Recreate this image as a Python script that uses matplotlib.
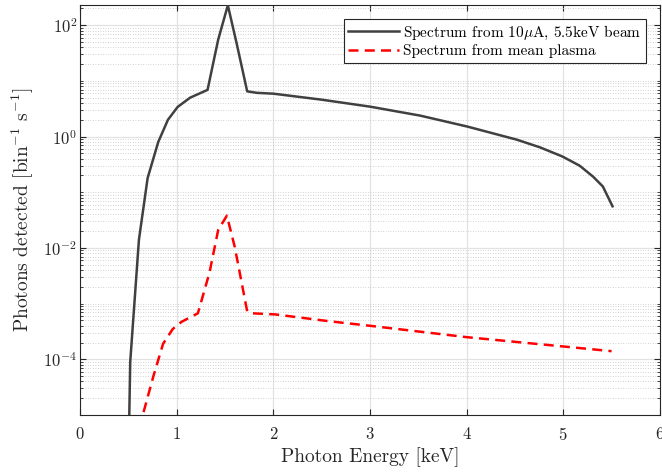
import matplotlib
matplotlib.use('Agg')
import matplotlib.pyplot as plt
import numpy as np
from matplotlib.ticker import FixedLocator, LogFormatterMathtext, NullFormatter

plt.rcParams['font.family'] = 'cmr10'
plt.rcParams['mathtext.fontset'] = 'cm'
plt.rcParams['axes.formatter.use_mathtext'] = True

# beam spectrum (keV, photons per bin per s)
beam_energy = [0.50, 0.52, 0.61, 0.70, 0.81, 0.91, 1.01, 1.14, 1.32, 1.43, 1.53,
               1.62, 1.73, 1.83, 2.00, 2.50, 3.00, 3.52, 4.01, 4.52, 4.76, 4.99,
               5.17, 5.31, 5.41, 5.51]
beam_counts = [1e-6, 9e-5, 0.014, 0.18, 0.80, 2.0, 3.4, 5.0, 6.9, 55, 228,
               48, 6.5, 6.1, 5.9, 4.6, 3.45, 2.38, 1.51, 0.88, 0.64, 0.44,
               0.30, 0.19, 0.127, 0.056]

# mean plasma spectrum
plasma_energy = [0.60, 0.65, 0.76, 0.86, 0.96, 1.05, 1.22, 1.34, 1.43, 1.52,
                 1.60, 1.73, 1.78, 2.02, 2.59, 3.00, 4.00, 5.00, 5.50]
plasma_counts = [3e-6, 1e-5, 5e-5, 1.9e-4, 3.5e-4, 4.7e-4, 6.7e-4, 3.6e-3, 0.021,
                 0.038, 0.0107, 7.3e-4, 6.7e-4, 6.4e-4, 4.8e-4, 4.0e-4, 2.5e-4,
                 1.7e-4, 1.4e-4]

x_ticks = [0, 1, 2, 3, 4, 5, 6]
y_major = [1e-4, 1e-2, 1e0, 1e2]

fig = plt.figure(figsize=(6.62, 4.72), dpi=100)
ax = fig.add_axes([0.1208, 0.1208, 0.876, 0.868])

ax.plot(beam_energy, beam_counts, color='#404040', lw=1.8,
        label=r'Spectrum from 10$\mu$A, 5.5keV beam', zorder=3)
ax.plot(plasma_energy, plasma_counts, color='#ff0000', lw=1.8,
        ls=(0, (4, 2.5)), label='Spectrum from mean plasma', zorder=3)

ax.set_yscale('log')
ax.set_xlim(0, 6)
ax.set_ylim(1e-5, 228)

ax.set_xticks(x_ticks)
ax.yaxis.set_major_locator(FixedLocator(y_major))
ax.yaxis.set_major_formatter(LogFormatterMathtext())
minor = []
for e in range(-5, 3):
    for m in range(1, 10):
        v = m * 10.0 ** e
        if v not in y_major:
            minor.append(v)
ax.yaxis.set_minor_locator(FixedLocator(minor))
ax.yaxis.set_minor_formatter(NullFormatter())

ax.grid(which='major', color='#e2e2e2', lw=0.9, ls='-')
ax.grid(which='minor', axis='y', color='#c4c4c4', lw=0.6, ls=(0, (1, 2)))
ax.set_axisbelow(True)

ax.tick_params(which='both', direction='in', top=True, right=True,
               labelsize=12, colors='#262626', labelcolor='#262626')
ax.tick_params(which='major', length=4, width=0.8)
ax.tick_params(which='minor', length=2.5, width=0.6)
ax.tick_params(axis='x', pad=8)
ax.tick_params(axis='y', pad=2)
for s in ax.spines.values():
    s.set_color('#262626')
    s.set_linewidth(0.8)

ax.set_xlabel('Photon Energy [keV]', fontsize=14, color='#262626', labelpad=3)
ax.set_ylabel(r'Photons detected [bin$^{-1}$ s$^{-1}$]', fontsize=14,
              color='#262626', labelpad=5)

leg = ax.legend(loc='upper right', bbox_to_anchor=(0.976, 0.966), fontsize=11,
                fancybox=False, framealpha=1, edgecolor='#262626',
                borderpad=0.3, labelspacing=0.15, handlelength=3.3,
                handletextpad=0.3, borderaxespad=0)
leg.get_frame().set_linewidth(0.8)

fig.savefig('out.png', dpi=100)
